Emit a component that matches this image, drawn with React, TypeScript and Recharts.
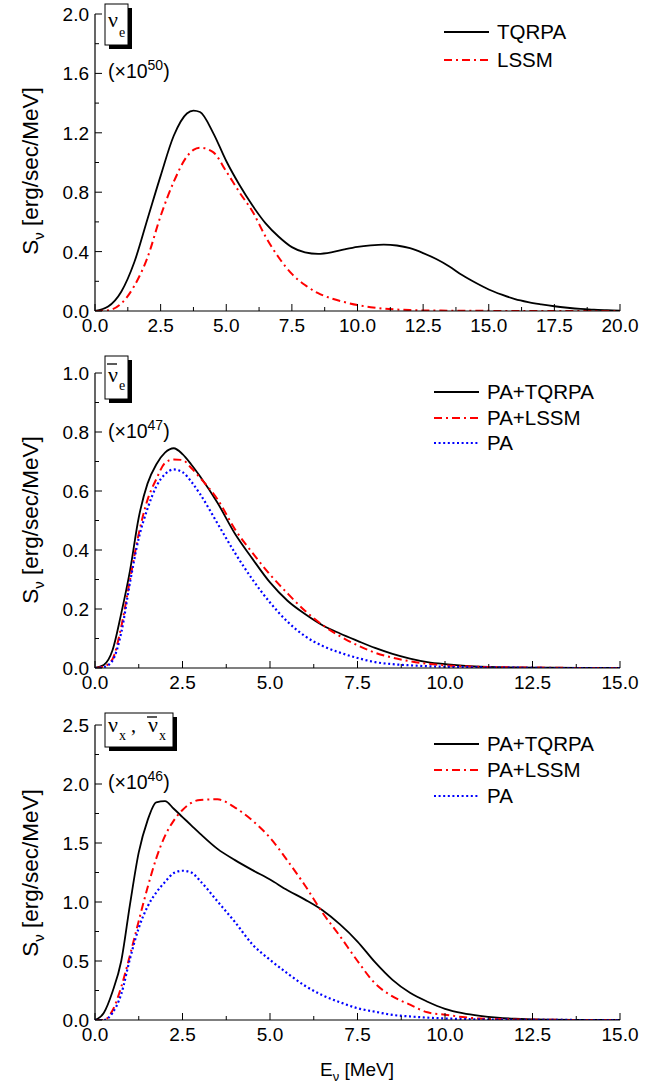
import React from 'react';
import { LineChart, Line, XAxis, YAxis } from 'recharts';

// panel 1: nu_e (x10^50)
const nueEnergy = [0, 0.5, 1, 1.5, 2, 2.5, 3, 3.5, 3.75, 4, 4.5, 5, 5.5, 6, 6.5, 7, 7.5, 8, 8.5, 9, 9.5, 10, 10.5, 11, 11.5, 12, 12.5, 13, 13.5, 14, 14.5, 15, 15.5, 16, 16.5, 17, 17.5, 18, 18.5, 19, 19.5, 20];
const nueTqrpa = [0, 0.03, 0.13, 0.33, 0.62, 0.91, 1.18, 1.33, 1.35, 1.34, 1.2, 1.01, 0.85, 0.71, 0.59, 0.5, 0.43, 0.395, 0.385, 0.395, 0.415, 0.432, 0.442, 0.447, 0.441, 0.423, 0.39, 0.35, 0.3, 0.24, 0.19, 0.145, 0.11, 0.08, 0.06, 0.045, 0.032, 0.022, 0.014, 0.009, 0.005, 0.003];
const nueLssm = [0, 0.005, 0.05, 0.17, 0.36, 0.64, 0.87, 1.04, 1.085, 1.1, 1.07, 0.94, 0.8, 0.67, 0.5, 0.36, 0.25, 0.175, 0.12, 0.085, 0.06, 0.04, 0.026, 0.016, 0.01, 0.006, 0.004, 0.003, 0.002, 0.002, 0.001, 0.001, 0, 0, 0, 0, 0, 0, 0, 0, 0, 0];

// panel 2: anti nu_e (x10^47)
const anueEnergy = [0, 0.25, 0.5, 0.75, 1, 1.25, 1.5, 1.75, 2, 2.25, 2.5, 2.75, 3, 3.5, 4, 4.5, 5, 5.5, 6, 6.5, 7, 7.5, 8, 8.5, 9, 9.5, 10, 10.5, 11, 11.5, 12, 13, 14, 15];
const anueTqrpa = [0, 0.01, 0.06, 0.185, 0.33, 0.51, 0.625, 0.69, 0.73, 0.745, 0.725, 0.69, 0.65, 0.56, 0.455, 0.37, 0.29, 0.228, 0.183, 0.145, 0.117, 0.092, 0.068, 0.048, 0.032, 0.02, 0.013, 0.008, 0.005, 0.003, 0.002, 0.001, 0, 0];
const anueLssm = [0, 0.005, 0.03, 0.14, 0.3, 0.455, 0.57, 0.64, 0.695, 0.707, 0.705, 0.678, 0.645, 0.572, 0.47, 0.39, 0.317, 0.253, 0.194, 0.146, 0.108, 0.077, 0.052, 0.035, 0.023, 0.014, 0.009, 0.006, 0.004, 0.003, 0.002, 0.001, 0, 0];
const anuePa = [0, 0.003, 0.025, 0.12, 0.29, 0.44, 0.54, 0.615, 0.657, 0.673, 0.664, 0.632, 0.59, 0.49, 0.39, 0.3, 0.222, 0.157, 0.108, 0.075, 0.052, 0.034, 0.02, 0.013, 0.009, 0.006, 0.004, 0.003, 0.002, 0.001, 0.001, 0, 0, 0];

// panel 3: nu_x, anti nu_x (x10^46)
const nuxEnergy = [0, 0.25, 0.5, 0.75, 1, 1.25, 1.5, 1.75, 2, 2.25, 2.5, 2.75, 3, 3.5, 4, 4.5, 5, 5.5, 6, 6.5, 7, 7.5, 8, 8.5, 9, 9.5, 10, 10.5, 11, 11.5, 12, 13, 14, 15];
const nuxTqrpa = [0, 0.06, 0.24, 0.5, 0.98, 1.42, 1.69, 1.845, 1.855, 1.79, 1.72, 1.65, 1.58, 1.45, 1.355, 1.27, 1.19, 1.1, 1.02, 0.93, 0.81, 0.665, 0.49, 0.34, 0.23, 0.155, 0.095, 0.058, 0.035, 0.02, 0.011, 0.002, 0, 0];
const nuxLssm = [0, 0, 0.08, 0.28, 0.55, 0.84, 1.12, 1.37, 1.56, 1.69, 1.78, 1.84, 1.865, 1.87, 1.8, 1.69, 1.545, 1.35, 1.14, 0.91, 0.71, 0.5, 0.31, 0.2, 0.13, 0.065, 0.045, 0.025, 0.012, 0.008, 0.005, 0.002, 0, 0];
const nuxPa = [0, 0, 0.06, 0.22, 0.52, 0.78, 0.96, 1.08, 1.17, 1.245, 1.265, 1.25, 1.18, 1.005, 0.83, 0.64, 0.51, 0.395, 0.29, 0.21, 0.15, 0.1, 0.07, 0.043, 0.03, 0.02, 0.013, 0.008, 0.005, 0.003, 0.002, 0.001, 0, 0];

// ticks
const xTicks20 = [0, 1.25, 2.5, 3.75, 5, 6.25, 7.5, 8.75, 10, 11.25, 12.5, 13.75, 15, 16.25, 17.5, 18.75, 20];
const xTicks15 = [0, 1.25, 2.5, 3.75, 5, 6.25, 7.5, 8.75, 10, 11.25, 12.5, 13.75, 15];
const yTicks1 = [0, 0.2, 0.4, 0.6, 0.8, 1.0, 1.2, 1.4, 1.6, 1.8, 2.0];
const yTicks2 = [0, 0.1, 0.2, 0.3, 0.4, 0.5, 0.6, 0.7, 0.8, 0.9, 1.0];
const yTicks3 = [0, 0.25, 0.5, 0.75, 1.0, 1.25, 1.5, 1.75, 2.0, 2.25, 2.5];

const zip = (e: number[], a: number[], b: number[], c?: number[]) =>
  e.map((x, i) => ({ e: x, a: a[i], b: b[i], c: c ? c[i] : undefined }));

const FONT = '"Liberation Sans", Arial, sans-serif';
const SERIF = '"Liberation Serif", "Times New Roman", serif';

const isMajor = (v: number, step: number) => Math.abs(v / step - Math.round(v / step)) < 1e-6;

const bottomTick = (step: number) => (p: any) => {
  const v = p.payload.value;
  const major = isMajor(v, step);
  return (
    <g>
      <line x1={p.x} y1={p.y} x2={p.x} y2={p.y - (major ? 7 : 4)} stroke="#000" />
      {major && (
        <text x={p.x} y={p.y + 21} textAnchor="middle" fontSize={19} fontFamily={FONT} fill="#000">
          {v.toFixed(1)}
        </text>
      )}
    </g>
  );
};

const topTick = (step: number) => (p: any) => {
  const major = isMajor(p.payload.value, step);
  return <line x1={p.x} y1={p.y} x2={p.x} y2={p.y + (major ? 7 : 4)} stroke="#000" />;
};

const leftTick = (step: number) => (p: any) => {
  const v = p.payload.value;
  const major = isMajor(v, step);
  return (
    <g>
      <line x1={p.x} y1={p.y} x2={p.x + (major ? 7 : 4)} y2={p.y} stroke="#000" />
      {major && (
        <text x={p.x - 6} y={p.y + 7} textAnchor="end" fontSize={19} fontFamily={FONT} fill="#000">
          {v.toFixed(1)}
        </text>
      )}
    </g>
  );
};

const rightTick = (step: number) => (p: any) => {
  const major = isMajor(p.payload.value, step);
  return <line x1={p.x} y1={p.y} x2={p.x - (major ? 7 : 4)} y2={p.y} stroke="#000" />;
};

type Series = { key: string; color: string; width: number; dash?: string };

const solid: Series = { key: 'a', color: '#000000', width: 1.8 };
const dashDot: Series = { key: 'b', color: '#ff0000', width: 2, dash: '8 4 2 4' };
const dotted: Series = { key: 'c', color: '#0000ff', width: 2.2, dash: '2 2.6' };

interface PanelProps {
  top: number;
  marginTop: number;
  plotHeight: number;
  data: any[];
  xMax: number;
  xTicks: number[];
  yMax: number;
  yTicks: number[];
  yStep: number;
  series: Series[];
}

const Panel: React.FC<PanelProps> = ({ top, marginTop, plotHeight, data, xMax, xTicks, yMax, yTicks, yStep, series }) => (
  <div style={{ position: 'absolute', left: 0, top }}>
    <LineChart
      width={664}
      height={marginTop + plotHeight + 30}
      data={data}
      margin={{ top: marginTop, right: 44, bottom: 0, left: 0 }}
    >
      <XAxis
        dataKey="e"
        type="number"
        domain={[0, xMax]}
        ticks={xTicks}
        interval={0}
        allowDataOverflow
        height={30}
        tickSize={0}
        tickMargin={0}
        tickLine={false}
        axisLine={{ stroke: '#000', strokeWidth: 1.2 }}
        tick={bottomTick(2.5)}
      />
      <XAxis
        xAxisId="top"
        orientation="top"
        dataKey="e"
        type="number"
        domain={[0, xMax]}
        ticks={xTicks}
        interval={0}
        allowDataOverflow
        height={0}
        tickSize={0}
        tickMargin={0}
        tickLine={false}
        axisLine={{ stroke: '#000', strokeWidth: 1.2 }}
        tick={topTick(2.5)}
      />
      <YAxis
        type="number"
        domain={[0, yMax]}
        ticks={yTicks}
        interval={0}
        allowDataOverflow
        width={95}
        tickSize={0}
        tickMargin={0}
        tickLine={false}
        axisLine={{ stroke: '#000', strokeWidth: 1.2 }}
        tick={leftTick(yStep)}
      />
      <YAxis
        yAxisId="right"
        orientation="right"
        type="number"
        domain={[0, yMax]}
        ticks={yTicks}
        interval={0}
        allowDataOverflow
        width={0}
        tickSize={0}
        tickMargin={0}
        tickLine={false}
        axisLine={{ stroke: '#000', strokeWidth: 1.2 }}
        tick={rightTick(yStep)}
      />
      {series.map((s) => (
        <Line
          key={s.key}
          type="monotone"
          dataKey={s.key}
          stroke={s.color}
          strokeWidth={s.width}
          strokeDasharray={s.dash}
          dot={false}
          activeDot={false}
          isAnimationActive={false}
        />
      ))}
    </LineChart>
  </div>
);

const LegendRow = ({ x, y, s, label }: { x: number; y: number; s: Series; label: string }) => (
  <g>
    <line x1={x} x2={x + 45} y1={y} y2={y} stroke={s.color} strokeWidth={s.width} strokeDasharray={s.dash} />
    <text x={x + 53} y={y + 7} fontSize={20.5} fontFamily={FONT} fill="#000">
      {label}
    </text>
  </g>
);

const Multiplier = ({ y, exp }: { y: number; exp: string }) => (
  <text x={108} y={y} fontSize={19.5} fontFamily={FONT} fill="#000">
    (×10
    <tspan fontSize={14} dy={-8}>{exp}</tspan>
    <tspan dy={8}>)</tspan>
  </text>
);

const YLabel = ({ cy }: { cy: number }) => (
  <text transform={`translate(38,${cy}) rotate(-90)`} textAnchor="middle" fontSize={22.5} fontFamily={FONT} fill="#000">
    S
    <tspan fontSize={15} dy={6}>ν</tspan>
    <tspan dy={-6}> [erg/sec/MeV]</tspan>
  </text>
);

const ShadowBox = ({ x, y, w, h }: { x: number; y: number; w: number; h: number }) => (
  <g>
    <rect x={x + 4} y={y + 4} width={w} height={h} fill="#000" />
    <rect x={x} y={y} width={w} height={h} fill="#fff" stroke="#000" strokeWidth={1} />
  </g>
);

export default function App() {
  const d1 = zip(nueEnergy, nueTqrpa, nueLssm);
  const d2 = zip(anueEnergy, anueTqrpa, anueLssm, anuePa);
  const d3 = zip(nuxEnergy, nuxTqrpa, nuxLssm, nuxPa);

  return (
    <div style={{ position: 'absolute', left: 0, top: 0, width: 664, height: 1086, background: '#fff' }}>
      <Panel top={0} marginTop={14} plotHeight={297} data={d1} xMax={20} xTicks={xTicks20} yMax={2} yTicks={yTicks1} yStep={0.4} series={[solid, dashDot]} />
      <Panel top={360} marginTop={13} plotHeight={295} data={d2} xMax={15} xTicks={xTicks15} yMax={1} yTicks={yTicks2} yStep={0.2} series={[solid, dashDot, dotted]} />
      <Panel top={712} marginTop={13} plotHeight={295} data={d3} xMax={15} xTicks={xTicks15} yMax={2.5} yTicks={yTicks3} yStep={0.5} series={[solid, dashDot, dotted]} />

      <svg width={664} height={1086} style={{ position: 'absolute', left: 0, top: 0, pointerEvents: 'none' }}>
        <YLabel cy={171} />
        <YLabel cy={520} />
        <YLabel cy={873} />

        {/* panel 1 */}
        <ShadowBox x={105} y={4} w={23} h={41} />
        <text x={108} y={27} fontSize={22} fontFamily={SERIF}>ν</text>
        <text x={119} y={37} fontSize={14} fontFamily={SERIF}>e</text>
        <Multiplier y={78} exp="50" />
        <LegendRow x={444} y={32} s={solid} label="TQRPA" />
        <LegendRow x={444} y={60} s={dashDot} label="LSSM" />

        {/* panel 2 */}
        <ShadowBox x={105} y={356} w={23} h={43} />
        <line x1={107} x2={117} y1={364} y2={364} stroke="#000" strokeWidth={1.3} />
        <text x={108} y={382} fontSize={22} fontFamily={SERIF}>ν</text>
        <text x={119} y={390} fontSize={14} fontFamily={SERIF}>e</text>
        <Multiplier y={438} exp="47" />
        <LegendRow x={434} y={392} s={solid} label="PA+TQRPA" />
        <LegendRow x={434} y={418} s={dashDot} label="PA+LSSM" />
        <LegendRow x={434} y={443} s={dotted} label="PA" />

        {/* panel 3 */}
        <ShadowBox x={105} y={713} w={68} h={34} />
        <text x={108} y={732} fontSize={22} fontFamily={SERIF}>ν</text>
        <text x={119} y={740} fontSize={14} fontFamily={SERIF}>x</text>
        <text x={131} y={732} fontSize={20} fontFamily={SERIF}>,</text>
        <line x1={147} x2={157} y1={717} y2={717} stroke="#000" strokeWidth={1.3} />
        <text x={148} y={732} fontSize={22} fontFamily={SERIF}>ν</text>
        <text x={159} y={740} fontSize={14} fontFamily={SERIF}>x</text>
        <Multiplier y={789} exp="46" />
        <LegendRow x={434} y={744} s={solid} label="PA+TQRPA" />
        <LegendRow x={434} y={770} s={dashDot} label="PA+LSSM" />
        <LegendRow x={434} y={796} s={dotted} label="PA" />

        <text x={357} y={1076} textAnchor="middle" fontSize={19} fontFamily={FONT}>
          E
          <tspan fontSize={13} dy={5}>ν</tspan>
          <tspan dy={-5}> [MeV]</tspan>
        </text>
      </svg>
    </div>
  );
}
